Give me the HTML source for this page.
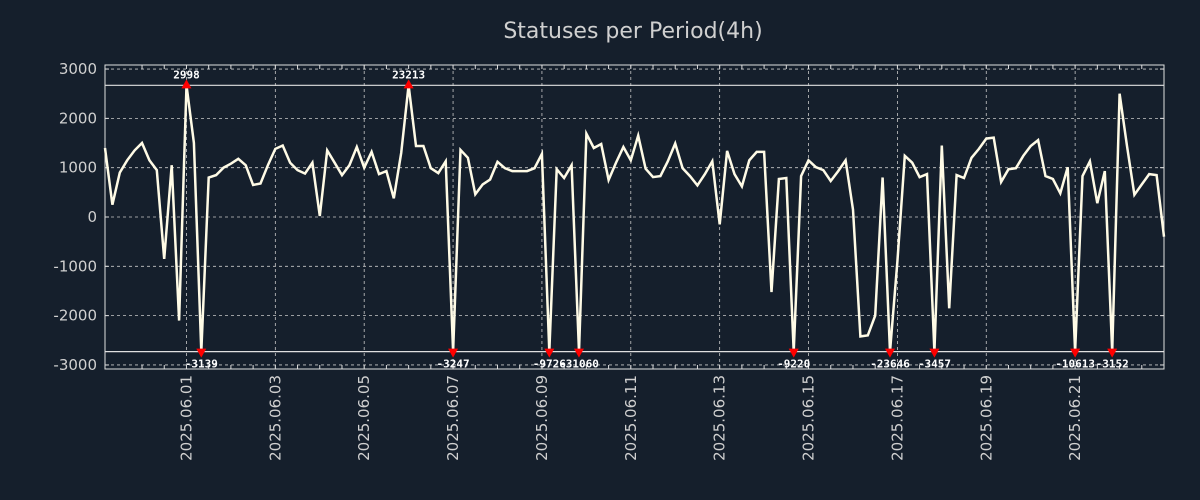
<!DOCTYPE html>
<html><head><meta charset="utf-8"><style>
html,body{margin:0;padding:0;background:#151f2c;}
svg{display:block;font-family:"DejaVu Sans","Liberation Sans",sans-serif;}
</style></head><body>
<svg id="chart" width="1200" height="500" xmlns="http://www.w3.org/2000/svg">
<rect width="1200" height="500" fill="#151f2c"/>
<text x="633" y="38" text-anchor="middle" font-size="22" fill="#d0d0d0">Statuses per Period(4h)</text>
<g id="g"></g>
</svg>
<script>
const values=[1400,250,900,1150,1350,1500,1150,950,-850,1050,-2100,2998,1500,-3139,800,850,1000,1080,1180,1050,650,680,1050,1380,1450,1100,950,880,1100,20,1350,1100,850,1050,1420,1000,1320,870,930,380,1300,23213,1440,1440,990,890,1130,-3247,1360,1200,460,660,760,1120,990,930,930,930,990,1280,-9726,970,790,1050,-31060,1690,1400,1480,750,1100,1420,1150,1650,980,810,830,1130,1490,990,830,640,870,1130,-150,1340,870,620,1150,1320,1320,-1520,770,790,-9220,830,1150,1010,950,730,930,1150,150,-2420,-2400,-2000,800,-23646,-900,1240,1100,810,870,-3457,1450,-1852,850,790,1200,1380,1590,1610,710,970,990,1240,1440,1560,830,770,480,1010,-10613,830,1130,280,930,-3152,2500,1440,450,660,870,850,-400];
const yTicks=[3000,2000,1000,0,-1000,-2000,-3000];
const xTickLabels=["2025.06.01","2025.06.03","2025.06.05","2025.06.07","2025.06.09","2025.06.11","2025.06.13","2025.06.15","2025.06.17","2025.06.19","2025.06.21"];
const firstTickIndex=11, tickStep=12;
const clipHigh=2670, clipLow=-2730;
const L=105,R=1164,T=65,B=369,yMin=-3082,yMax=3082;
const NS="http://www.w3.org/2000/svg";
const g=document.getElementById('g');
const xs=i=>L+i*(R-L)/(values.length-1);
const ys=v=>B-(v-yMin)/(yMax-yMin)*(B-T);
function mk(t,a){const e=document.createElementNS(NS,t);for(const k in a)e.setAttribute(k,a[k]);g.appendChild(e);return e;}
// grid
yTicks.forEach(v=>{const l=mk('line',{x1:L,x2:R,y1:ys(v),y2:ys(v),stroke:'#c8c8c8','stroke-width':0.8,'stroke-dasharray':'3,3'});

const t=mk('text',{x:L-8,y:ys(v)+5,'text-anchor':'end','font-size':15,fill:'#d0d0d0'});t.textContent=v;

[[L,L+4],[R,R-4]].forEach(p=>{const k=mk('line',{x1:p[0],x2:p[1],y1:ys(v),y2:ys(v),stroke:'#ddd'});});});
xTickLabels.forEach((lab,j)=>{const x=xs(firstTickIndex+j*tickStep);
const l=mk('line',{x1:x,x2:x,y1:T,y2:B,stroke:'#c8c8c8','stroke-width':0.8,'stroke-dasharray':'3,3'});

const t=mk('text',{x:0,y:0,'text-anchor':'end','font-size':15,fill:'#d0d0d0',transform:`translate(${x+5},375) rotate(-90)`});t.textContent=lab;
});
for(let i=firstTickIndex-tickStep/2;i<values.length;i+=tickStep/4){if(i<0)continue;const x=xs(i);
[[B,B-4],[T,T+4]].forEach(p=>{const k=mk('line',{x1:x,x2:x,y1:p[0],y2:p[1],stroke:'#ddd'});});}
// clip lines
[clipHigh,clipLow].forEach(v=>{const l=mk('line',{x1:L,x2:R,y1:ys(v),y2:ys(v),stroke:'#e0e0e0','stroke-width':1.2});
});
// frame
const fr=mk('rect',{x:L,y:T,width:R-L,height:B-T,fill:'none',stroke:'#e0e0e0','stroke-width':1});

// line
const pts=values.map((v,i)=>xs(i).toFixed(1)+','+ys(Math.max(clipLow,Math.min(clipHigh,v))).toFixed(1)).join(' ');
const pl=mk('polyline',{points:pts,fill:'none',stroke:'#fffbe6','stroke-width':2.5,'stroke-linejoin':'miter'});

// markers
values.forEach((v,i)=>{if(v<=clipHigh&&v>=clipLow)return;const x=xs(i);
if(v>clipHigh){const y=ys(clipHigh);
const m=mk('polygon',{points:`${x-5},${y+3} ${x+5},${y+3} ${x},${y-6}`,fill:'#ff0000'});
const t=mk('text',{x:x,y:y-7,'text-anchor':'middle','font-size':11,'font-weight':'bold',fill:'#fff','font-family':'DejaVu Sans Mono, monospace'});t.textContent=v;}
else{const y=ys(clipLow);
const m=mk('polygon',{points:`${x-5},${y-3} ${x+5},${y-3} ${x},${y+6}`,fill:'#ff0000'});
const t=mk('text',{x:x,y:y+16,'text-anchor':'middle','font-size':11,'font-weight':'bold',fill:'#fff','font-family':'DejaVu Sans Mono, monospace'});t.textContent=v;}});
</script>
</body></html>
